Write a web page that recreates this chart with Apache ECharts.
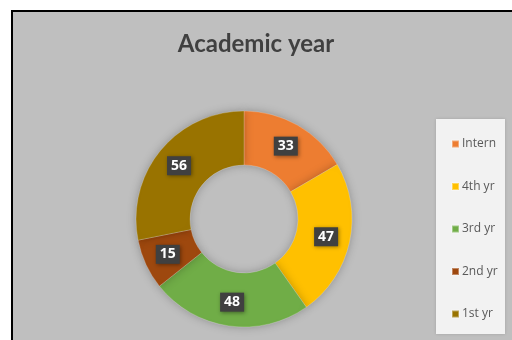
<!DOCTYPE html>
<html>
<head>
<meta charset="utf-8">
<script src="https://cdn.jsdelivr.net/npm/echarts@6/dist/echarts.min.js"></script>
<style>
  html, body { margin: 0; padding: 0; background: #fff; }
  #chart { width: 512px; height: 340px; }
</style>
</head>
<body>
<div id="chart"></div>
<script>
// 数据
const categories = ['Intern', '4th yr', '3rd yr', '2nd yr', '1st yr'];
const values = [33, 47, 48, 15, 56];
const colors = ['#ED7D31', '#FFC000', '#70AD47', '#9E480E', '#997300'];

document.addEventListener('DOMContentLoaded', () => {
    const chart = echarts.init(document.getElementById('chart'), null, {renderer: 'canvas'});

    const option = {
        backgroundColor: '#ffffff',
        animation: false,
        color: colors,
        title: {
            text: 'Academic year',
            left: 251,
            top: 27,
            textAlign: 'center',
            textStyle: {
                fontFamily: 'Lato',
                fontWeight: 'bold',
                fontSize: 24,
                color: '#404040'
            }
        },
        graphic: [
            // 灰色图表区 + 黑色边框
            {
                type: 'rect', z: -10,
                shape: {x: 12, y: 11, width: 530, height: 340},
                style: {fill: '#BFBFBF', stroke: '#000', lineWidth: 2}
            },
            // 图例背景
            {
                type: 'rect', z: -5,
                shape: {x: 436, y: 119, width: 69, height: 215},
                style: {fill: '#F2F2F2', shadowBlur: 3, shadowColor: 'rgba(0,0,0,0.15)'}
            }
        ],
        legend: {
            orient: 'vertical',
            left: 446,
            top: 133,
            itemWidth: 7,
            itemHeight: 7,
            itemGap: 30.5,
            icon: 'rect',
            data: categories,
            textStyle: {
                fontFamily: 'Open Sans',
                fontSize: 12,
                color: '#595959',
                padding: [0, 0, 0, -2]
            }
        },
        series: [{
            type: 'pie',
            center: [244, 219],
            radius: [54, 108],
            startAngle: 90,
            clockwise: true,
            itemStyle: {
                borderColor: 'rgba(255,255,255,0.35)',
                borderWidth: 0.6,
                shadowBlur: 10,
                shadowColor: 'rgba(0,0,0,0.25)'
            },
            label: {
                show: true,
                position: 'inside',
                formatter: '{c}',
                color: '#fff',
                fontFamily: 'Open Sans',
                fontWeight: 'bold',
                fontSize: 14,
                backgroundColor: '#404040',
                padding: [3, 4, 2, 4],
                shadowBlur: 4,
                shadowColor: 'rgba(0,0,0,0.4)',
                shadowOffsetX: 1,
                shadowOffsetY: 1
            },
            labelLine: {show: false},
            emphasis: {disabled: true},
            data: categories.map((name, i) => ({name: name, value: values[i]}))
        }]
    };

    chart.setOption(option);
});
</script>
</body>
</html>
